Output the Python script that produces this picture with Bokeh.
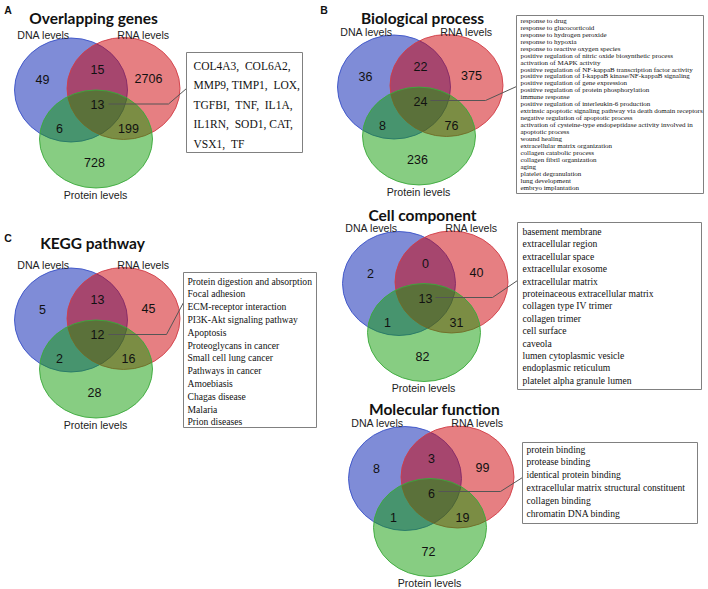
from bokeh.plotting import figure
from bokeh.models import Range1d
from bokeh.embed import file_html
from bokeh.resources import INLINE
from bokeh.core.properties import value

# ---------------- DATA ----------------
panel_titles = ["Overlapping genes", "Biological process", "KEGG pathway",
                "Cell component", "Molecular function"]
panel_letters = ["A", "B", "C"]
set_labels = ["DNA levels", "RNA levels", "Protein levels"]
# region order: DNA only, RNA only, Protein only, DNA&RNA, DNA&Protein, RNA&Protein, all three
overlapping_genes = [49, 2706, 728, 15, 6, 199, 13]
biological_process = [36, 375, 236, 22, 8, 76, 24]
kegg_pathway = [5, 45, 28, 13, 2, 16, 12]
cell_component = [2, 40, 82, 0, 1, 31, 13]
molecular_function = [8, 99, 72, 3, 1, 19, 6]

NB = "\u00a0"
genes_terms = ["COL4A3," + NB * 2 + "COL6A2,",
               "MMP9, TIMP1," + NB * 2 + "LOX,",
               "TGFBI," + NB * 2 + "TNF," + NB * 2 + "IL1A,",
               "IL1RN," + NB * 2 + "SOD1, CAT,",
               "VSX1," + NB * 2 + "TF"]
bp_terms = [
    "response to drug",
    "response to glucocorticoid",
    "response to hydrogen peroxide",
    "response to hypoxia",
    "response to reactive oxygen species",
    "positive regulation of nitric oxide biosynthetic process",
    "activation of MAPK activity",
    "positive regulation of NF-kappaB transcription factor activity",
    "positive regulation of I-kappaB kinase/NF-kappaB signaling",
    "positive regulation of gene expression",
    "positive regulation of protein phosphorylation",
    "immune response",
    "positive regulation of interleukin-6 production",
    "extrinsic apoptotic signaling pathway via death domain receptors",
    "negative regulation of apoptotic process",
    "activation of cysteine-type endopeptidase activity involved in",
    "apoptotic process",
    "wound healing",
    "extracellular matrix organization",
    "collagen catabolic process",
    "collagen fibril organization",
    "aging",
    "platelet degranulation",
    "lung development",
    "embryo implantation",
]
kegg_terms = ["Protein digestion and absorption", "Focal adhesion",
              "ECM-receptor interaction", "PI3K-Akt signaling pathway", "Apoptosis",
              "Proteoglycans in cancer", "Small cell lung cancer", "Pathways in cancer",
              "Amoebiasis", "Chagas disease", "Malaria", "Prion diseases"]
cc_terms = ["basement membrane", "extracellular region", "extracellular space",
            "extracellular exosome", "extracellular matrix",
            "proteinaceous extracellular matrix", "collagen type IV trimer",
            "collagen trimer", "cell surface", "caveola", "lumen cytoplasmic vesicle",
            "endoplasmic reticulum", "platelet alpha granule lumen"]
mf_terms = ["protein binding", "protease binding", "identical protein binding",
            "extracellular matrix structural constituent", "collagen binding",
            "chromatin DNA binding"]

panel_counts = [overlapping_genes, biological_process, kegg_pathway,
                cell_component, molecular_function]
panel_terms = [genes_terms, bp_terms, kegg_terms, cc_terms, mf_terms]

# ---------------- LAYOUT (image pixel coordinates) ----------------
W, H = 708, 589
def Y(v):
    return H - v

# template venn (panel A frame)
ell_cx = [70.5, 123.0, 95.5]
ell_cy = [89.5, 88.0, 138.5]
ell_w = [113, 113, 113]
ell_h = [104, 102, 98]
fill_cols = ["#0019AF", "#CD0005", "#0F9B05"]
line_cols = ["#3a52c8", "#d23c46", "#3caa3c"]
num_x = [42, 148, 94, 97, 59, 128, 97]
num_y = [79, 78, 162, 69, 128, 128, 104]
lab_x = [43, 143, 95]
lab_y = [34, 34, 194]

offsets = [(0, 0), (323, -3), (0, 230), (328, 193.5), (334, 388.5)]
title_pos = [(93, 17), (422, 17), (92, 242), (422, 214), (434, 408)]
letter_pos = [(7.5, 9.5), (323.5, 9.5), (7.5, 237.5)]

# boxes: left, right, top, bottom, text-left, first line y, line step, font size
boxes = [
    (186, 302, 52, 152, 193, 65, 19.5, "11.5px"),
    (516, 703, 15, 193, 520, 20.3, 6.96, "7px"),
    (183, 316, 272, 427, 187, 280.5, 12.8, "9.6px"),
    (517, 701, 222, 389, 522, 231, 12.4, "9.6px"),
    (522, 697, 442, 523, 526, 448.5, 12.9, "9.6px"),
]
# leader lines: start (center number) -> elbow -> box edge
leaders = [
    [(108, 103.5), (168, 103.5), (186, 88)],
    [(430, 100), (485, 100), (516, 86)],
    [(108, 334), (166, 334), (183, 302)],
    [(435, 297), (492, 297), (517, 280)],
    [(438, 491), (500, 491), (522, 477)],
]

p = figure(width=W, height=H, output_backend="svg", toolbar_location=None,
           x_range=Range1d(0, W), y_range=Range1d(0, H),
           x_axis_type=None, y_axis_type=None, min_border=0)
p.grid.visible = False
p.outline_line_color = None
p.background_fill_color = "white"

sans = value("Liberation Sans")
serif = value("Liberation Serif")

for i in range(5):
    dx, dy = offsets[i]
    # ellipses
    for k in range(3):
        p.ellipse(x=[ell_cx[k] + dx], y=[Y(ell_cy[k] + dy)], width=[ell_w[k]],
                  height=[ell_h[k]], fill_color=fill_cols[k], fill_alpha=0.5,
                  line_color=line_cols[k], line_width=1, line_alpha=0.9)
    # region counts
    p.text(x=[x + dx for x in num_x], y=[Y(y + dy) for y in num_y],
           text=[str(c) for c in panel_counts[i]], text_font=sans,
           text_font_size="12.5px", text_align="center", text_baseline="middle",
           text_color="#111111")
    # set labels
    p.text(x=[x + dx for x in lab_x], y=[Y(y + dy) for y in lab_y],
           text=set_labels, text_font=sans, text_font_size="10.6px",
           text_align="center", text_baseline="middle", text_color="#222222")
    # title
    tx, ty = title_pos[i]
    p.text(x=[tx], y=[Y(ty)], text=[panel_titles[i]], text_font=value("Lato"),
           text_font_style="bold", text_font_size="15.5px", text_align="center",
           text_baseline="middle", text_color="#111111")
    # leader line
    pts = leaders[i]
    p.line(x=[q[0] for q in pts], y=[Y(q[1]) for q in pts], line_color="#555555",
           line_width=1)
    # term box
    l, r, t, b, tlx, fy, step, fs = boxes[i]
    p.quad(left=[l], right=[r], top=[Y(t)], bottom=[Y(b)], fill_color="white",
           line_color="#808080", line_width=1)
    terms = panel_terms[i]
    p.text(x=[tlx] * len(terms), y=[Y(fy + j * step) for j in range(len(terms))],
           text=terms, text_font=serif, text_font_size=fs, text_align="left",
           text_baseline="middle", text_color="#111111")

p.text(x=[q[0] for q in letter_pos], y=[Y(q[1]) for q in letter_pos],
       text=panel_letters, text_font=sans, text_font_style="bold",
       text_font_size="10.5px", text_align="center", text_baseline="middle",
       text_color="#111111")

open("out.html", "w").write(file_html(p, INLINE))
